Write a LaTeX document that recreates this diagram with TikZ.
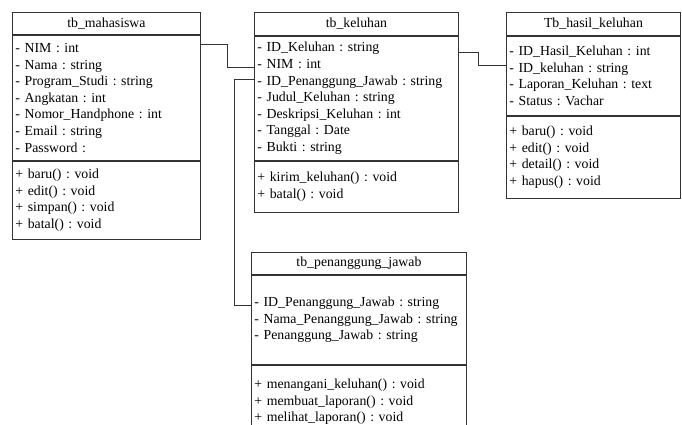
\documentclass[tikz,border=0pt]{standalone}
\usepackage{fontspec}
\setmainfont{Liberation Serif}
\usepackage{tikz}
\frenchspacing

\begin{document}
\begin{tikzpicture}[
      x=1pt,y=-1pt,
      line width=0.9pt,
      head/.style={
        draw=black!80,anchor=north west,inner sep=0pt,
        font=\fontsize{13.8}{16.6}\selectfont
      },
      part/.style={
        draw=black!80,anchor=north west,align=left,inner xsep=3pt,inner ysep=0pt,
        font=\fontsize{13.8}{16.6}\selectfont\frenchspacing
      },
      link/.style={draw=black!80,line width=0.9pt},
    ]
    \useasboundingbox (0,0) rectangle (682,425);
    \node[head,minimum width=188pt,minimum height=22pt] (mhsH) at (12,12) {tb\_mahasiswa};
    \node[part,text width=182pt,minimum height=125pt] (mhsA) at (mhsH.south west) {- NIM : int\\- Nama : string\\- Program\_Studi : string\\- Angkatan : int\\- Nomor\_Handphone : int\\- Email : string\\- Password :};
    \node[part,text width=182pt,minimum height=78pt] (mhsO) at (mhsA.south west) {+ baru() : void\\+ edit() : void\\+ simpan() : void\\+ batal() : void};
    \node[head,minimum width=204pt,minimum height=23pt] (klhH) at (254,12) {tb\_keluhan};
    \node[part,text width=198pt,minimum height=124pt] (klhA) at (klhH.south west) {- ID\_Keluhan : string\\- NIM : int\\- ID\_Penanggung\_Jawab : string\\- Judul\_Keluhan : string\\- Deskripsi\_Keluhan : int\\- Tanggal : Date\\- Bukti : string};
    \node[part,text width=198pt,minimum height=51pt] (klhO) at (klhA.south west) {+ kirim\_keluhan() : void\\+ batal() : void};
    \node[head,minimum width=174pt,minimum height=23pt] (hslH) at (506,12) {Tb\_hasil\_keluhan};
    \node[part,text width=168pt,minimum height=79pt] (hslA) at (hslH.south west) {- ID\_Hasil\_Keluhan : int\\- ID\_keluhan : string\\- Laporan\_Keluhan : text\\- Status : Vachar};
    \node[part,text width=168pt,minimum height=82pt] (hslO) at (hslA.south west) {+ baru() : void\\+ edit() : void\\+ detail() : void\\+ hapus() : void};
    \node[head,minimum width=215pt,minimum height=22pt] (pjH) at (251,252) {tb\_penanggung\_jawab};
    \node[part,text width=209pt,minimum height=89pt] (pjA) at (pjH.south west) {- ID\_Penanggung\_Jawab : string\\- Nama\_Penanggung\_Jawab : string\\- Penanggung\_Jawab : string};
    \node[part,text width=209pt,minimum height=73pt] (pjO) at (pjA.south west) {+ menangani\_keluhan() : void\\+ membuat\_laporan() : void\\+ melihat\_laporan() : void};
    \draw[link] ([yshift=-10pt]mhsA.north east) -- ++(27,0) |- ([yshift=-32pt]klhA.north west);
    \draw[link] ([yshift=-44pt]klhA.north west) -- ++(-20,0) |- ([yshift=-31pt]pjA.north west);
    \draw[link] ([yshift=-17pt]klhA.north east) -- ++(20,0) |- ([yshift=-30pt]hslA.north west);
  \end{tikzpicture}
\end{document}
